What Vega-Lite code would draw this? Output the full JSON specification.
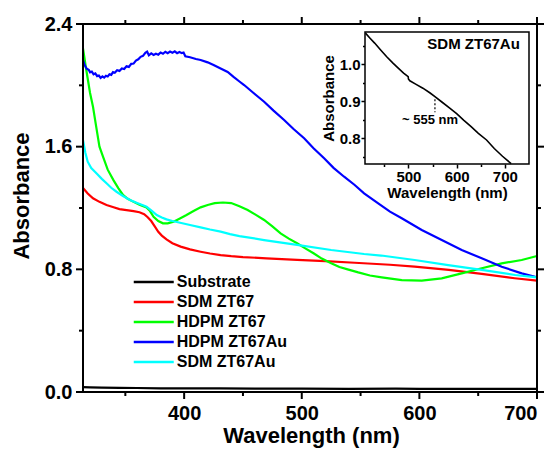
{
  "$schema": "https://vega.github.io/schema/vega-lite/v6.json",
  "width": 474,
  "height": 388,
  "autosize": {"type": "none"},
  "padding": {"left": 73, "top": 14, "right": 7, "bottom": 50},
  "background": "white",
  "config": {
    "view": {"stroke": null},
    "axis": {"grid": false, "zindex": 1, "domainColor": "#000", "tickColor": "#000", "labelColor": "#000", "titleColor": "#000", "labelFont": "Liberation Sans", "titleFont": "Liberation Sans", "labelFontWeight": "bold", "titleFontWeight": "bold"},
    "text": {"font": "Liberation Sans", "fontWeight": "bold", "color": "#000"}
  },
  "layer": [
    {
      "data": {"values": [
        {"s": "Substrate", "x": 314, "y": 0.032}, {"s": "Substrate", "x": 320, "y": 0.03}, {"s": "Substrate", "x": 330, "y": 0.028}, {"s": "Substrate", "x": 345, "y": 0.027}, {"s": "Substrate", "x": 360, "y": 0.026}, {"s": "Substrate", "x": 380, "y": 0.024}, {"s": "Substrate", "x": 400, "y": 0.024}, {"s": "Substrate", "x": 430, "y": 0.023}, {"s": "Substrate", "x": 460, "y": 0.022}, {"s": "Substrate", "x": 500, "y": 0.022}, {"s": "Substrate", "x": 540, "y": 0.021}, {"s": "Substrate", "x": 580, "y": 0.022}, {"s": "Substrate", "x": 600, "y": 0.021}, {"s": "Substrate", "x": 620, "y": 0.02}, {"s": "Substrate", "x": 660, "y": 0.02}, {"s": "Substrate", "x": 700, "y": 0.02},
        {"s": "SDM ZT67", "x": 314, "y": 1.33}, {"s": "SDM ZT67", "x": 318, "y": 1.295}, {"s": "SDM ZT67", "x": 322.5, "y": 1.263}, {"s": "SDM ZT67", "x": 328, "y": 1.24}, {"s": "SDM ZT67", "x": 334, "y": 1.22}, {"s": "SDM ZT67", "x": 340, "y": 1.205}, {"s": "SDM ZT67", "x": 345, "y": 1.193}, {"s": "SDM ZT67", "x": 351, "y": 1.186}, {"s": "SDM ZT67", "x": 357, "y": 1.18}, {"s": "SDM ZT67", "x": 362, "y": 1.172}, {"s": "SDM ZT67", "x": 366, "y": 1.16}, {"s": "SDM ZT67", "x": 369, "y": 1.14}, {"s": "SDM ZT67", "x": 372, "y": 1.115}, {"s": "SDM ZT67", "x": 375, "y": 1.08}, {"s": "SDM ZT67", "x": 378, "y": 1.045}, {"s": "SDM ZT67", "x": 381, "y": 1.02}, {"s": "SDM ZT67", "x": 385, "y": 0.995}, {"s": "SDM ZT67", "x": 390, "y": 0.97}, {"s": "SDM ZT67", "x": 397, "y": 0.948}, {"s": "SDM ZT67", "x": 405, "y": 0.93}, {"s": "SDM ZT67", "x": 414, "y": 0.915}, {"s": "SDM ZT67", "x": 422, "y": 0.903}, {"s": "SDM ZT67", "x": 431, "y": 0.893}, {"s": "SDM ZT67", "x": 440, "y": 0.886}, {"s": "SDM ZT67", "x": 450, "y": 0.88}, {"s": "SDM ZT67", "x": 470, "y": 0.872}, {"s": "SDM ZT67", "x": 496, "y": 0.862}, {"s": "SDM ZT67", "x": 520, "y": 0.853}, {"s": "SDM ZT67", "x": 545, "y": 0.843}, {"s": "SDM ZT67", "x": 575, "y": 0.83}, {"s": "SDM ZT67", "x": 596, "y": 0.818}, {"s": "SDM ZT67", "x": 625, "y": 0.797}, {"s": "SDM ZT67", "x": 653, "y": 0.77}, {"s": "SDM ZT67", "x": 681, "y": 0.742}, {"s": "SDM ZT67", "x": 700, "y": 0.726},
        {"s": "HDPM ZT67", "x": 314, "y": 2.24}, {"s": "HDPM ZT67", "x": 316.8, "y": 2.1}, {"s": "HDPM ZT67", "x": 320, "y": 1.95}, {"s": "HDPM ZT67", "x": 322.5, "y": 1.86}, {"s": "HDPM ZT67", "x": 325, "y": 1.74}, {"s": "HDPM ZT67", "x": 328, "y": 1.6}, {"s": "HDPM ZT67", "x": 331, "y": 1.535}, {"s": "HDPM ZT67", "x": 335, "y": 1.45}, {"s": "HDPM ZT67", "x": 340, "y": 1.38}, {"s": "HDPM ZT67", "x": 344, "y": 1.33}, {"s": "HDPM ZT67", "x": 348, "y": 1.285}, {"s": "HDPM ZT67", "x": 352, "y": 1.26}, {"s": "HDPM ZT67", "x": 357, "y": 1.24}, {"s": "HDPM ZT67", "x": 362, "y": 1.222}, {"s": "HDPM ZT67", "x": 368, "y": 1.204}, {"s": "HDPM ZT67", "x": 371, "y": 1.18}, {"s": "HDPM ZT67", "x": 374, "y": 1.143}, {"s": "HDPM ZT67", "x": 378, "y": 1.115}, {"s": "HDPM ZT67", "x": 382, "y": 1.1}, {"s": "HDPM ZT67", "x": 386, "y": 1.1}, {"s": "HDPM ZT67", "x": 391, "y": 1.111}, {"s": "HDPM ZT67", "x": 396, "y": 1.13}, {"s": "HDPM ZT67", "x": 402, "y": 1.154}, {"s": "HDPM ZT67", "x": 408, "y": 1.18}, {"s": "HDPM ZT67", "x": 414, "y": 1.204}, {"s": "HDPM ZT67", "x": 420, "y": 1.22}, {"s": "HDPM ZT67", "x": 426, "y": 1.232}, {"s": "HDPM ZT67", "x": 433, "y": 1.236}, {"s": "HDPM ZT67", "x": 440, "y": 1.232}, {"s": "HDPM ZT67", "x": 447, "y": 1.212}, {"s": "HDPM ZT67", "x": 454, "y": 1.187}, {"s": "HDPM ZT67", "x": 461, "y": 1.155}, {"s": "HDPM ZT67", "x": 468, "y": 1.122}, {"s": "HDPM ZT67", "x": 475, "y": 1.08}, {"s": "HDPM ZT67", "x": 482, "y": 1.035}, {"s": "HDPM ZT67", "x": 489, "y": 1.0}, {"s": "HDPM ZT67", "x": 496, "y": 0.97}, {"s": "HDPM ZT67", "x": 503, "y": 0.937}, {"s": "HDPM ZT67", "x": 510, "y": 0.905}, {"s": "HDPM ZT67", "x": 517, "y": 0.87}, {"s": "HDPM ZT67", "x": 525, "y": 0.839}, {"s": "HDPM ZT67", "x": 532, "y": 0.815}, {"s": "HDPM ZT67", "x": 539, "y": 0.8}, {"s": "HDPM ZT67", "x": 548, "y": 0.78}, {"s": "HDPM ZT67", "x": 558, "y": 0.76}, {"s": "HDPM ZT67", "x": 568, "y": 0.748}, {"s": "HDPM ZT67", "x": 585, "y": 0.73}, {"s": "HDPM ZT67", "x": 602, "y": 0.726}, {"s": "HDPM ZT67", "x": 619, "y": 0.741}, {"s": "HDPM ZT67", "x": 636, "y": 0.774}, {"s": "HDPM ZT67", "x": 653, "y": 0.807}, {"s": "HDPM ZT67", "x": 670, "y": 0.839}, {"s": "HDPM ZT67", "x": 687, "y": 0.861}, {"s": "HDPM ZT67", "x": 700, "y": 0.887},
        {"s": "HDPM ZT67Au", "x": 314, "y": 2.165}, {"s": "HDPM ZT67Au", "x": 315.5, "y": 2.13}, {"s": "HDPM ZT67Au", "x": 317, "y": 2.11}, {"s": "HDPM ZT67Au", "x": 319, "y": 2.1}, {"s": "HDPM ZT67Au", "x": 320, "y": 2.085}, {"s": "HDPM ZT67Au", "x": 321.5, "y": 2.09}, {"s": "HDPM ZT67Au", "x": 323, "y": 2.072}, {"s": "HDPM ZT67Au", "x": 324.5, "y": 2.078}, {"s": "HDPM ZT67Au", "x": 326, "y": 2.06}, {"s": "HDPM ZT67Au", "x": 327.5, "y": 2.064}, {"s": "HDPM ZT67Au", "x": 329, "y": 2.048}, {"s": "HDPM ZT67Au", "x": 330.5, "y": 2.058}, {"s": "HDPM ZT67Au", "x": 332, "y": 2.05}, {"s": "HDPM ZT67Au", "x": 333.5, "y": 2.062}, {"s": "HDPM ZT67Au", "x": 335, "y": 2.058}, {"s": "HDPM ZT67Au", "x": 336.5, "y": 2.072}, {"s": "HDPM ZT67Au", "x": 338, "y": 2.068}, {"s": "HDPM ZT67Au", "x": 339.5, "y": 2.086}, {"s": "HDPM ZT67Au", "x": 341, "y": 2.082}, {"s": "HDPM ZT67Au", "x": 343, "y": 2.098}, {"s": "HDPM ZT67Au", "x": 345, "y": 2.094}, {"s": "HDPM ZT67Au", "x": 347, "y": 2.11}, {"s": "HDPM ZT67Au", "x": 349, "y": 2.106}, {"s": "HDPM ZT67Au", "x": 351, "y": 2.124}, {"s": "HDPM ZT67Au", "x": 353, "y": 2.12}, {"s": "HDPM ZT67Au", "x": 355, "y": 2.14}, {"s": "HDPM ZT67Au", "x": 357, "y": 2.142}, {"s": "HDPM ZT67Au", "x": 359, "y": 2.162}, {"s": "HDPM ZT67Au", "x": 361, "y": 2.17}, {"s": "HDPM ZT67Au", "x": 363, "y": 2.186}, {"s": "HDPM ZT67Au", "x": 365, "y": 2.192}, {"s": "HDPM ZT67Au", "x": 367, "y": 2.212}, {"s": "HDPM ZT67Au", "x": 368.5, "y": 2.22}, {"s": "HDPM ZT67Au", "x": 370, "y": 2.196}, {"s": "HDPM ZT67Au", "x": 372, "y": 2.208}, {"s": "HDPM ZT67Au", "x": 374, "y": 2.198}, {"s": "HDPM ZT67Au", "x": 376, "y": 2.206}, {"s": "HDPM ZT67Au", "x": 378, "y": 2.2}, {"s": "HDPM ZT67Au", "x": 380, "y": 2.214}, {"s": "HDPM ZT67Au", "x": 382, "y": 2.206}, {"s": "HDPM ZT67Au", "x": 384, "y": 2.219}, {"s": "HDPM ZT67Au", "x": 386, "y": 2.21}, {"s": "HDPM ZT67Au", "x": 388, "y": 2.22}, {"s": "HDPM ZT67Au", "x": 390, "y": 2.212}, {"s": "HDPM ZT67Au", "x": 392, "y": 2.222}, {"s": "HDPM ZT67Au", "x": 394, "y": 2.21}, {"s": "HDPM ZT67Au", "x": 396, "y": 2.218}, {"s": "HDPM ZT67Au", "x": 398, "y": 2.21}, {"s": "HDPM ZT67Au", "x": 399.5, "y": 2.214}, {"s": "HDPM ZT67Au", "x": 401, "y": 2.19}, {"s": "HDPM ZT67Au", "x": 405, "y": 2.183}, {"s": "HDPM ZT67Au", "x": 410, "y": 2.172}, {"s": "HDPM ZT67Au", "x": 414, "y": 2.165}, {"s": "HDPM ZT67Au", "x": 420, "y": 2.15}, {"s": "HDPM ZT67Au", "x": 425, "y": 2.133}, {"s": "HDPM ZT67Au", "x": 431, "y": 2.11}, {"s": "HDPM ZT67Au", "x": 437, "y": 2.087}, {"s": "HDPM ZT67Au", "x": 442, "y": 2.055}, {"s": "HDPM ZT67Au", "x": 447, "y": 2.025}, {"s": "HDPM ZT67Au", "x": 451, "y": 2.002}, {"s": "HDPM ZT67Au", "x": 459, "y": 1.95}, {"s": "HDPM ZT67Au", "x": 468, "y": 1.893}, {"s": "HDPM ZT67Au", "x": 476, "y": 1.835}, {"s": "HDPM ZT67Au", "x": 485, "y": 1.774}, {"s": "HDPM ZT67Au", "x": 493, "y": 1.715}, {"s": "HDPM ZT67Au", "x": 502, "y": 1.655}, {"s": "HDPM ZT67Au", "x": 510, "y": 1.59}, {"s": "HDPM ZT67Au", "x": 519, "y": 1.524}, {"s": "HDPM ZT67Au", "x": 527, "y": 1.462}, {"s": "HDPM ZT67Au", "x": 536, "y": 1.404}, {"s": "HDPM ZT67Au", "x": 545, "y": 1.35}, {"s": "HDPM ZT67Au", "x": 553, "y": 1.296}, {"s": "HDPM ZT67Au", "x": 565, "y": 1.23}, {"s": "HDPM ZT67Au", "x": 575, "y": 1.176}, {"s": "HDPM ZT67Au", "x": 585, "y": 1.133}, {"s": "HDPM ZT67Au", "x": 602, "y": 1.057}, {"s": "HDPM ZT67Au", "x": 619, "y": 0.991}, {"s": "HDPM ZT67Au", "x": 636, "y": 0.926}, {"s": "HDPM ZT67Au", "x": 653, "y": 0.872}, {"s": "HDPM ZT67Au", "x": 670, "y": 0.817}, {"s": "HDPM ZT67Au", "x": 687, "y": 0.774}, {"s": "HDPM ZT67Au", "x": 700, "y": 0.748},
        {"s": "SDM ZT67Au", "x": 314, "y": 1.643}, {"s": "SDM ZT67Au", "x": 316, "y": 1.56}, {"s": "SDM ZT67Au", "x": 318, "y": 1.502}, {"s": "SDM ZT67Au", "x": 321, "y": 1.46}, {"s": "SDM ZT67Au", "x": 325.4, "y": 1.426}, {"s": "SDM ZT67Au", "x": 330, "y": 1.39}, {"s": "SDM ZT67Au", "x": 334, "y": 1.361}, {"s": "SDM ZT67Au", "x": 338, "y": 1.332}, {"s": "SDM ZT67Au", "x": 342.5, "y": 1.306}, {"s": "SDM ZT67Au", "x": 348, "y": 1.278}, {"s": "SDM ZT67Au", "x": 354, "y": 1.252}, {"s": "SDM ZT67Au", "x": 360, "y": 1.232}, {"s": "SDM ZT67Au", "x": 365, "y": 1.218}, {"s": "SDM ZT67Au", "x": 368, "y": 1.209}, {"s": "SDM ZT67Au", "x": 372, "y": 1.185}, {"s": "SDM ZT67Au", "x": 376.7, "y": 1.154}, {"s": "SDM ZT67Au", "x": 381, "y": 1.138}, {"s": "SDM ZT67Au", "x": 385, "y": 1.126}, {"s": "SDM ZT67Au", "x": 390, "y": 1.115}, {"s": "SDM ZT67Au", "x": 396.6, "y": 1.104}, {"s": "SDM ZT67Au", "x": 405, "y": 1.089}, {"s": "SDM ZT67Au", "x": 414, "y": 1.074}, {"s": "SDM ZT67Au", "x": 422, "y": 1.06}, {"s": "SDM ZT67Au", "x": 431, "y": 1.046}, {"s": "SDM ZT67Au", "x": 439, "y": 1.03}, {"s": "SDM ZT67Au", "x": 447, "y": 1.017}, {"s": "SDM ZT67Au", "x": 468, "y": 0.991}, {"s": "SDM ZT67Au", "x": 496, "y": 0.959}, {"s": "SDM ZT67Au", "x": 525, "y": 0.926}, {"s": "SDM ZT67Au", "x": 553, "y": 0.9}, {"s": "SDM ZT67Au", "x": 567.5, "y": 0.89}, {"s": "SDM ZT67Au", "x": 596, "y": 0.861}, {"s": "SDM ZT67Au", "x": 624.5, "y": 0.828}, {"s": "SDM ZT67Au", "x": 653, "y": 0.796}, {"s": "SDM ZT67Au", "x": 681.5, "y": 0.763}, {"s": "SDM ZT67Au", "x": 700, "y": 0.748}
      ]},
      "layer": [
        {
          "mark": {"type": "line", "strokeWidth": 2.2},
          "encoding": {
            "x": {"field": "x", "type": "quantitative", "scale": {"domain": [314, 700], "range": [10, 464], "nice": false, "zero": false},
              "axis": {"orient": "bottom", "offset": -10, "values": [400, 500, 600, 700], "format": "d", "domain": false, "tickSize": 7, "tickOpacity": 0, "labelFontSize": 20, "labelPadding": 4, "title": "Wavelength (nm)", "titleFontSize": 22, "titleX": 238, "titleY": 50, "titleBaseline": "alphabetic", "titleAlign": "center"}},
            "y": {"field": "y", "type": "quantitative", "scale": {"domain": [0, 2.4], "range": [378, 10], "nice": false, "zero": false},
              "axis": {"orient": "left", "offset": -10, "values": [0, 0.8, 1.6, 2.4], "format": ".1f", "domain": false, "tickSize": 7, "tickOpacity": 0, "labelFontSize": 20, "labelPadding": 4, "title": "Absorbance", "titleFontSize": 22, "titleX": -55, "titleY": 181.5, "titleAngle": -90, "titleBaseline": "alphabetic", "titleAlign": "center"}},
            "color": {"field": "s", "type": "nominal",
              "scale": {"domain": ["Substrate", "SDM ZT67", "HDPM ZT67", "HDPM ZT67Au", "SDM ZT67Au"], "range": ["#000000", "#FF0000", "#00FF00", "#0000FF", "#00FFFF"]},
              "legend": {"orient": "none", "legendX": 59, "legendY": 260, "title": null, "symbolType": "M-4,0H4", "symbolSize": 100, "symbolStrokeWidth": 2.5, "symbolOffset": 13.75, "labelOffset": 15, "labelFontSize": 16, "labelFont": "Liberation Sans", "labelFontWeight": "bold", "labelColor": "#000", "rowPadding": 4, "padding": 0}}
          }
        },
        {
          "data": {"values": [{}]},
          "mark": {"type": "rule", "color": "black", "strokeWidth": 2, "strokeCap": "square"},
          "encoding": {"x": {"datum": 314, "type": "quantitative"}, "x2": {"datum": 700}, "y": {"datum": 0, "type": "quantitative"}}
        },
        {
          "data": {"values": [{}]},
          "mark": {"type": "rule", "color": "black", "strokeWidth": 2, "strokeCap": "square"},
          "encoding": {"x": {"datum": 314, "type": "quantitative"}, "x2": {"datum": 700}, "y": {"datum": 2.4, "type": "quantitative"}}
        },
        {
          "data": {"values": [{}]},
          "mark": {"type": "rule", "color": "black", "strokeWidth": 2, "strokeCap": "square"},
          "encoding": {"x": {"datum": 314, "type": "quantitative"}, "y": {"datum": 0, "type": "quantitative"}, "y2": {"datum": 2.4}}
        },
        {
          "data": {"values": [{}]},
          "mark": {"type": "rule", "color": "black", "strokeWidth": 2, "strokeCap": "square"},
          "encoding": {"x": {"datum": 700, "type": "quantitative"}, "y": {"datum": 0, "type": "quantitative"}, "y2": {"datum": 2.4}}
        },
        {
          "data": {"values": [{"v": 400}, {"v": 500}, {"v": 600}, {"v": 700}]},
          "mark": {"type": "rule", "color": "black", "strokeWidth": 2},
          "encoding": {"x": {"field": "v", "type": "quantitative"}, "y": {"datum": 0, "type": "quantitative"}, "y2": {"datum": -0.0457}}
        },
        {
          "data": {"values": [{"v": 350}, {"v": 450}, {"v": 550}, {"v": 650}]},
          "mark": {"type": "rule", "color": "black", "strokeWidth": 2},
          "encoding": {"x": {"field": "v", "type": "quantitative"}, "y": {"datum": 0, "type": "quantitative"}, "y2": {"datum": -0.0261}}
        },
        {
          "data": {"values": [{"v": 400}, {"v": 500}, {"v": 600}, {"v": 700}]},
          "mark": {"type": "rule", "color": "black", "strokeWidth": 2},
          "encoding": {"x": {"field": "v", "type": "quantitative"}, "y": {"datum": 2.4, "type": "quantitative"}, "y2": {"datum": 2.4457}}
        },
        {
          "data": {"values": [{"v": 350}, {"v": 450}, {"v": 550}, {"v": 650}]},
          "mark": {"type": "rule", "color": "black", "strokeWidth": 2},
          "encoding": {"x": {"field": "v", "type": "quantitative"}, "y": {"datum": 2.4, "type": "quantitative"}, "y2": {"datum": 2.4261}}
        },
        {
          "data": {"values": [{"v": 0}, {"v": 0.8}, {"v": 1.6}, {"v": 2.4}]},
          "mark": {"type": "rule", "color": "black", "strokeWidth": 2},
          "encoding": {"y": {"field": "v", "type": "quantitative"}, "x": {"datum": 314, "type": "quantitative"}, "x2": {"datum": 308.05}}
        },
        {
          "data": {"values": [{"v": 0.4}, {"v": 1.2}, {"v": 2.0}]},
          "mark": {"type": "rule", "color": "black", "strokeWidth": 2},
          "encoding": {"y": {"field": "v", "type": "quantitative"}, "x": {"datum": 314, "type": "quantitative"}, "x2": {"datum": 310.6}}
        },
        {
          "data": {"values": [{"v": 0}, {"v": 0.8}, {"v": 1.6}, {"v": 2.4}]},
          "mark": {"type": "rule", "color": "black", "strokeWidth": 2},
          "encoding": {"y": {"field": "v", "type": "quantitative"}, "x": {"datum": 700, "type": "quantitative"}, "x2": {"datum": 705.95}}
        },
        {
          "data": {"values": [{"v": 0.4}, {"v": 1.2}, {"v": 2.0}]},
          "mark": {"type": "rule", "color": "black", "strokeWidth": 2},
          "encoding": {"y": {"field": "v", "type": "quantitative"}, "x": {"datum": 700, "type": "quantitative"}, "x2": {"datum": 703.4}}
        }
      ]
    },
    {
      "data": {"values": [{}]},
      "mark": {"type": "rect", "fill": "white", "stroke": "black", "strokeWidth": 1.5},
      "encoding": {
        "x": {"datum": 410, "type": "quantitative", "scale": {"domain": [410, 750], "range": [292, 456], "nice": false, "zero": false}, "axis": null},
        "x2": {"datum": 750},
        "y": {"datum": 0.73, "type": "quantitative", "scale": {"domain": [0.73, 1.087], "range": [150, 18], "nice": false, "zero": false}, "axis": null},
        "y2": {"datum": 1.087}
      }
    },
    {
      "data": {"values": [
        {"x": 411, "y": 1.084}, {"x": 420, "y": 1.071}, {"x": 430, "y": 1.057}, {"x": 442, "y": 1.039}, {"x": 455, "y": 1.02}, {"x": 468, "y": 1.003}, {"x": 480, "y": 0.988}, {"x": 490, "y": 0.976}, {"x": 499.5, "y": 0.966}, {"x": 500, "y": 0.96}, {"x": 503, "y": 0.955}, {"x": 515, "y": 0.946}, {"x": 530, "y": 0.935}, {"x": 545, "y": 0.922}, {"x": 555, "y": 0.912}, {"x": 570, "y": 0.897}, {"x": 585, "y": 0.882}, {"x": 600, "y": 0.866}, {"x": 615, "y": 0.848}, {"x": 630, "y": 0.831}, {"x": 645, "y": 0.813}, {"x": 662, "y": 0.795}, {"x": 678, "y": 0.772}, {"x": 695, "y": 0.751}, {"x": 713, "y": 0.731}
      ]},
      "mark": {"type": "line", "color": "black", "strokeWidth": 1.6},
      "encoding": {
        "x": {"field": "x", "type": "quantitative", "scale": {"domain": [410, 750], "range": [292, 456], "nice": false, "zero": false},
          "axis": {"orient": "bottom", "offset": -238, "values": [500, 600, 700], "format": "d", "tickSize": 4, "tickWidth": 1.5, "domain": false, "labelFontSize": 15, "labelPadding": 1, "title": "Wavelength (nm)", "titleFontSize": 15, "titlePadding": 1}},
        "y": {"field": "y", "type": "quantitative", "scale": {"domain": [0.73, 1.087], "range": [150, 18], "nice": false, "zero": false},
          "axis": {"orient": "left", "offset": -292, "values": [0.8, 0.9, 1.0], "format": ".1f", "tickSize": 4, "tickWidth": 1.5, "domain": false, "labelFontSize": 15, "labelPadding": 1, "title": "Absorbance", "titleFontSize": 15, "titlePadding": 3}}
      }
    },
    {
      "data": {"values": [{}]},
      "mark": {"type": "point", "opacity": 0},
      "encoding": {
        "x": {"datum": 600, "type": "quantitative", "scale": {"domain": [410, 750], "range": [292, 456], "nice": false, "zero": false},
          "axis": {"orient": "bottom", "offset": -238, "values": [450, 550, 650], "labels": false, "domain": false, "title": null, "tickSize": 2.5, "tickWidth": 1.5}},
        "y": {"datum": 0.9, "type": "quantitative", "scale": {"domain": [0.73, 1.087], "range": [150, 18], "nice": false, "zero": false},
          "axis": {"orient": "left", "offset": -292, "values": [0.75, 0.85, 0.95, 1.05], "labels": false, "domain": false, "title": null, "tickSize": 2.5, "tickWidth": 1.5}}
      }
    },
    {
      "data": {"values": [{}]},
      "mark": {"type": "rule", "color": "black", "strokeWidth": 1.2, "strokeDash": [2, 2]},
      "encoding": {
        "x": {"datum": 555, "type": "quantitative", "scale": {"domain": [410, 750], "range": [292, 456], "nice": false, "zero": false}, "axis": null},
        "y": {"datum": 0.905, "type": "quantitative", "scale": {"domain": [0.73, 1.087], "range": [150, 18], "nice": false, "zero": false}, "axis": null},
        "y2": {"datum": 0.87}
      }
    },
    {
      "data": {"values": [{"t": "SDM ZT67Au"}]},
      "mark": {"type": "text", "fontSize": 15, "fontWeight": "bold", "align": "right", "baseline": "middle"},
      "encoding": {
        "x": {"datum": 731, "type": "quantitative", "scale": {"domain": [410, 750], "range": [292, 456], "nice": false, "zero": false}, "axis": null},
        "y": {"datum": 1.055, "type": "quantitative", "scale": {"domain": [0.73, 1.087], "range": [150, 18], "nice": false, "zero": false}, "axis": null},
        "text": {"field": "t"}
      }
    },
    {
      "data": {"values": [{"t": "~ 555 nm"}]},
      "mark": {"type": "text", "fontSize": 13, "fontWeight": "bold", "align": "center", "baseline": "middle"},
      "encoding": {
        "x": {"datum": 545, "type": "quantitative", "scale": {"domain": [410, 750], "range": [292, 456], "nice": false, "zero": false}, "axis": null},
        "y": {"datum": 0.849, "type": "quantitative", "scale": {"domain": [0.73, 1.087], "range": [150, 18], "nice": false, "zero": false}, "axis": null},
        "text": {"field": "t"}
      }
    }
  ],
  "resolve": {"scale": {"x": "independent", "y": "independent"}, "axis": {"x": "independent", "y": "independent"}}
}
